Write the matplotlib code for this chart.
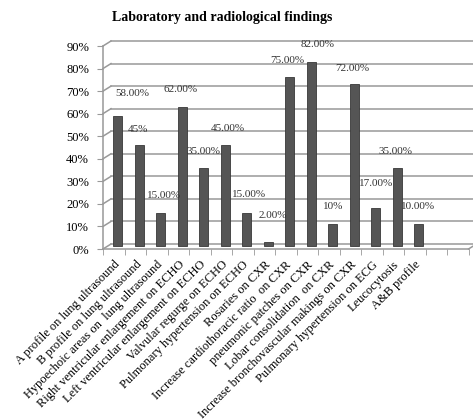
import numpy as np
import matplotlib.pyplot as plt
from matplotlib.transforms import ScaledTranslation

# Data
categories = [
    'A profile on lung ultrasound',
    'B profile on lung ultrasound',
    'Hypoechoic areas on  lung ultrasound',
    'Right ventricular enlargement on ECHO',
    'Left ventricular enlargement on ECHO',
    'Valvular regurge on ECHO',
    'Pulmonary hypertension on ECHO',
    'Rosaries on CXR',
    'Increase cardiothoracic ratio  on CXR',
    'pneumonic patches on CXR',
    'Lobar consolidation  on CXR',
    'Increase bronchovascular makings on CXR',
    'Pulmonary hypertension on ECG',
    'Leucocytosis',
    'A&B profile',
]
values = [58, 45, 15, 62, 35, 45, 15, 2, 75, 82, 10, 72, 17, 35, 10]
value_labels = ['58.00%', '45%', '15.00%', '62.00%', '35.00%', '45.00%', '15.00%',
                '2.00%', '75.00%', '82.00%', '10%', '72.00%', '17.00%', '35.00%',
                '10.00%']
yticks = [0, 10, 20, 30, 40, 50, 60, 70, 80, 90]

# label placement (excel puts them slightly off the bar tops)
label_dx = [0.7, -0.05, 0.15, -0.1, 0.0, 0.1, 0.1, 0.2, -0.1, 0.3, 0.0, -0.1, 0.0, -0.1, -0.05]
label_dy = [9.9, 7.0, 7.5, 7.7, 7.3, 7.5, 7.9, 11.7, 7.5, 7.5, 7.6, 7.0, 10.8, 7.3, 7.6]

plt.rcParams['font.family'] = ['Liberation Serif', 'DejaVu Serif']

fig = plt.figure(figsize=(4.73, 4.19), dpi=100)
ax = fig.add_axes([103 / 473, 170 / 419, 365.5 / 473, 203 / 419])

n_slots = 17
xmin, xmax = -0.5, n_slots - 0.5
ax.set_xlim(xmin, xmax)
ax.set_ylim(0, 90)

# depth of the fake 3d wall, in pixels -> data units
px_x = 365.5 / n_slots
px_y = 203 / 90
dxd = 8 / px_x
dyd = 5 / px_y
grid_col = '#999999'

for y in yticks:
    ax.plot([xmin, xmin + dxd], [y, y + dyd], color=grid_col, lw=1.1, clip_on=False)
    ax.plot([xmin + dxd, xmax + dxd], [y + dyd, y + dyd], color=grid_col, lw=1.1,
            clip_on=False)
ax.plot([xmin, xmax], [0, 0], color=grid_col, lw=1.1, clip_on=False)
ax.plot([xmax, xmax + dxd], [0, dyd], color=grid_col, lw=1.1, clip_on=False)

for s in ['top', 'right', 'bottom']:
    ax.spines[s].set_visible(False)
ax.spines['left'].set_color(grid_col)
ax.spines['left'].set_linewidth(1.1)

x = np.arange(len(values))
bar_shift = ScaledTranslation(0.04, 0.025, fig.dpi_scale_trans)
bars = ax.bar(x, values, width=0.42, color='#555555', edgecolor='#383838', lw=0.6,
              transform=ax.transData + bar_shift, zorder=3)

for i, v in enumerate(values):
    ax.text(i + label_dx[i], v + label_dy[i], value_labels[i], ha='center', va='center',
            fontsize=8, color='#333333', transform=ax.transData + bar_shift, zorder=4)

ax.set_yticks(yticks, [f'{t}%' for t in yticks], fontsize=9)
ax.tick_params(axis='y', length=4, color=grid_col, pad=6)

ax.set_xticks(x, categories, rotation=45, ha='right', rotation_mode='anchor', fontsize=9)
ax.set_xticks(np.arange(n_slots + 1) - 0.5, minor=True)
ax.tick_params(axis='x', which='major', length=0, pad=7)
ax.tick_params(axis='x', which='minor', length=4, color=grid_col)

fig.text(222 / 473, 1 - 18 / 419, 'Laboratory and radiological findings', ha='center',
         va='center', fontsize=10, fontweight='bold')

fig.savefig('out.png', dpi=100)
